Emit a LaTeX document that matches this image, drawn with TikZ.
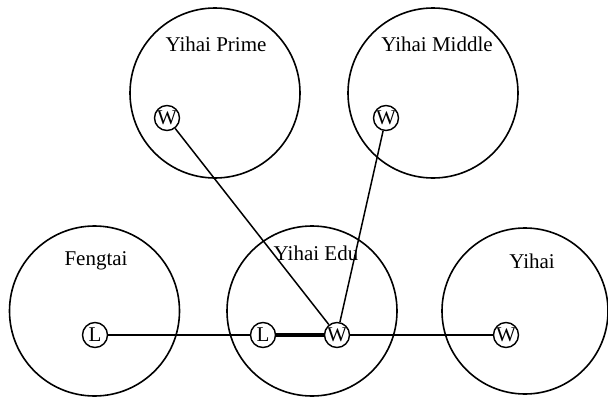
\documentclass[tikz,border=0pt]{standalone}
\usepackage{fontspec}
\setmainfont{Liberation Serif}
\begin{document}
\begin{tikzpicture}[x=1pt,y=-1pt,
  region/.style={draw,circle,line width=1.6pt,minimum size=170pt,inner sep=0pt},
  lbl/.style={font=\fontsize{21}{24}\selectfont,inner sep=0pt},
  site/.style={draw,circle,line width=1.4pt,minimum size=25pt,inner sep=0pt,font=\fontsize{21}{22}\selectfont},
  link/.style={line width=1.5pt},
  strong/.style={line width=3.2pt}]
\useasboundingbox (0,0) rectangle (608,399);
\node[region] (prime) at (215,93) {};
\node[region] (middle) at (433,93) {};
\node[region] (feng) at (94.5,311) {};
\node[region] (edu) at (312,311) {};
\node[region,minimum size=166pt] (yihai) at (525,311) {};
\node[lbl] (tprime) at (216,44) {Yihai Prime};
\node[lbl] (tmiddle) at (437,44) {Yihai Middle};
\node[lbl] (tfeng) at (96,261) {Fengtai};
\node[lbl] (tedu) at (316,253) {Yihai Edu};
\node[lbl] (tyihai) at (532,261) {Yihai};
\node[site] (wp) at (167,118) {W};
\node[site] (wm) at (386,118) {W};
\node[site] (lf) at (95,335) {L};
\node[site] (le) at (263,335) {L};
\node[site] (we) at (337,335) {W};
\node[site] (wy) at (506,335) {W};
\draw[link] (wp) -- (we);
\draw[link] (wm) -- (we);
\draw[link] (lf) -- (le);
\draw[strong] (le) -- (we);
\draw[link] (we) -- (wy);
\end{tikzpicture}
\end{document}
